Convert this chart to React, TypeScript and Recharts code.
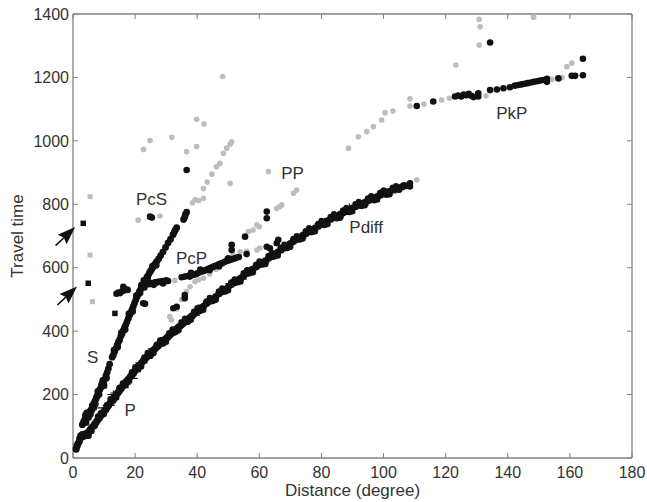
import React from 'react';
import { ScatterChart, Scatter, XAxis, YAxis } from 'recharts';

type Pt = [number, number];

const xTicks = [0, 20, 40, 60, 80, 100, 120, 140, 160, 180];
const yTicks = [0, 200, 400, 600, 800, 1000, 1200, 1400];

// P / Pdiff band (black dots)
const pBand: Pt[] = [
  [1, 28], [1.3, 38], [1.6, 45], [2, 52], [2.2, 62], [2.5, 70], [2.8, 66], [3, 74], [3.3, 68], [3.6, 72], [4, 76], [4.4, 72],
  [4.8, 80], [5.2, 84], [5.6, 90], [6, 96], [6.5, 100], [7, 108], [7.5, 113], [8, 121], [8.5, 126], [9, 134], [9.5, 141],
  [10, 147], [10.5, 152], [11, 160], [11.5, 166], [12, 174], [12.5, 181], [13, 188], [13.5, 193], [14, 201], [14.5, 206],
  [15, 214], [15.5, 219], [16, 226], [16.5, 232], [17, 239], [17.5, 245], [18, 250], [18.5, 257], [19, 262], [19.5, 268],
  [20, 276], [20.5, 281], [21, 288], [21.5, 292], [22, 299], [22.5, 305], [23, 310], [23.5, 316], [24, 321], [24.5, 326],
  [25, 331], [25.5, 336], [26, 341], [26.5, 345], [27, 351], [27.5, 355], [28, 360], [28.5, 363], [29, 368], [29.5, 373],
  [30, 377], [30.5, 381], [31, 386], [31.5, 391], [32, 395], [32.5, 399], [33, 404], [33.5, 408], [34, 413], [34.5, 416],
  [35, 421], [35.5, 425], [36, 429], [36.5, 433], [37, 437], [37.5, 441], [38, 446], [38.5, 449], [39, 454], [39.5, 458],
  [40, 462], [41, 471], [42, 478], [43, 487], [44, 494], [45, 502], [46, 509], [47, 518], [48, 524], [49, 532], [50, 539],
  [51, 547], [52, 553], [53, 561], [54, 567], [55, 575], [56, 582], [57, 590], [58, 596], [59, 603], [60, 609], [61, 617],
  [62, 622], [63, 630], [64, 636], [65, 643], [66, 649], [67, 656], [68, 662], [69, 669], [70, 676], [71, 683], [72, 689],
  [73, 696], [74, 702], [75, 708], [76, 714], [77, 720], [78, 725], [79, 731], [80, 737], [81, 742], [82, 748], [83, 753],
  [84, 758], [85, 763], [86, 768], [87, 773], [88, 778], [89, 783], [90, 788], [91, 793], [92, 797], [93, 802], [94, 806],
  [95, 811], [96, 815], [97, 820], [98, 824], [99, 829], [100, 833], [101, 837], [102, 841], [103, 845], [104, 848],
  [105, 852], [106, 855],
];

// scattered picks along the edges of the P band
const pEdge: Pt[] = [
  [5, 70], [7, 102], [9, 141], [11, 167], [13, 181], [15, 221], [17, 232], [19, 270], [21, 281], [23, 317], [25, 324],
  [27, 357], [29, 361], [31, 393], [33, 397], [35, 428], [37, 430], [39, 461], [41, 464], [43, 493], [45, 495], [47, 525],
  [49, 525], [51, 553], [53, 554], [55, 582], [57, 583], [59, 609], [61, 610], [63, 637], [65, 636], [67, 663], [69, 662],
  [71, 690], [73, 689], [75, 715], [77, 713], [79, 738], [81, 735], [83, 760], [85, 756], [87, 780], [89, 776], [91, 800],
  [93, 795], [95, 818], [97, 813], [99, 836], [101, 830], [103, 852], [105, 846], [107, 858],
];

// outer scatter of the P band
const pOuter: Pt[] = [
  [6, 84], [8, 132], [10, 138], [12, 186], [14, 190], [16, 236], [18, 240], [20, 287], [22, 288], [24, 332], [26, 330],
  [28, 371], [30, 366], [32, 406], [34, 402], [36, 440], [38, 435], [40, 473], [42, 467], [44, 505], [46, 498], [48, 535],
  [50, 528], [52, 564], [54, 556], [56, 593], [58, 585], [60, 620], [62, 611], [64, 647], [66, 638], [68, 673], [70, 665],
  [72, 700], [74, 691], [76, 725], [78, 714], [80, 748], [82, 737], [84, 769], [86, 757], [88, 789], [90, 777], [92, 808],
  [94, 796], [96, 826], [98, 814], [100, 844], [102, 831], [104, 858],
];

// "+" picks on the P band
const pCross: Pt[] = [
  [10, 158], [11.5, 166], [13, 200], [14, 205], [16, 222], [18.9, 251], [20, 272], [22, 300], [23.7, 314], [26, 344],
  [28, 356], [30, 380], [33, 400], [36, 432], [39, 450], [42, 482], [45, 498], [48, 528], [51, 550], [54, 564], [57, 592],
  [60, 612], [63, 626], [66, 652], [69, 670], [72, 692], [75, 704], [78, 728], [81, 744], [84, 760], [87, 768], [89, 790],
  [92, 800], [95, 808], [98, 828], [101, 838], [104, 846],
];

// S band (black dots)
const sBand: Pt[] = [
  [3, 105], [3.4, 115], [3.8, 122], [4.2, 112], [4.6, 130], [5, 140], [5.4, 146], [5.8, 152], [6.2, 165], [6.6, 170],
  [7, 178], [7.4, 186], [7.8, 196], [8.2, 205], [8.6, 215], [9, 222], [9.4, 230], [9.8, 236], [10.2, 248], [10.6, 260],
  [11, 270], [11.4, 282], [11.8, 296], [12.6, 318], [13, 325], [13.4, 335], [13.8, 345], [14.2, 356], [14.6, 365],
  [15, 372], [15.4, 384], [15.8, 392], [16.2, 402], [16.6, 412], [17, 420], [17.4, 430], [17.8, 440], [18.2, 450],
  [18.6, 458], [19, 468], [19.4, 478], [19.8, 488], [20.2, 498], [20.6, 508], [21, 516], [21.4, 525], [21.8, 532],
  [22.2, 540], [22.6, 548], [23, 555], [23.4, 562], [23.8, 570], [24.2, 576], [24.6, 583], [25, 590], [25.4, 596],
  [25.8, 602], [26.2, 608], [26.6, 614], [27, 620], [27.6, 628], [28.2, 638], [29, 650], [29.8, 664], [30.6, 678],
  [31.4, 690], [32.2, 704], [32.6, 712], [33, 720], [33.4, 726], [35.6, 752], [36, 760], [36.2, 768], [36.6, 775],
  [4, 135], [5, 128], [6, 150], [6.8, 160], [7.6, 192], [8.4, 200], [9.2, 232], [10, 228],
  [4.4, 142], [5.6, 138], [7.2, 170], [8, 210], [9.6, 245], [10.8, 252], [13.2, 340], [14.4, 350], [15.6, 395],
  [16.8, 405], [18, 455], [19.2, 462], [20.4, 512], [21.6, 520], [22.8, 560], [24, 566], [25.6, 605], [26.8, 608],
];

// PcP band (black dots)
const pcpBand: Pt[] = [
  [14, 518], [14.6, 522], [15.2, 520], [15.8, 526], [16.4, 528], [17, 532], [17.6, 530], [16.2, 540], [22, 545],
  [22.8, 544], [23.4, 546], [24, 550], [24.6, 548], [25.2, 552], [25.8, 551], [26.4, 554], [27, 553], [27.6, 556],
  [28.2, 555], [28.8, 558], [29.4, 556], [30, 560], [30.6, 558], [35, 570], [36, 572], [37, 574], [37.6, 572],
  [38.2, 576], [39, 578], [39.6, 580], [40.2, 583], [40.8, 586], [41.4, 588], [42, 590], [42.6, 592], [43.2, 595],
  [43.8, 597], [44.4, 600], [45, 602], [45.6, 605], [46.2, 607], [46.8, 610], [47.4, 612], [48, 615], [48.6, 617],
  [49.2, 620], [49.8, 622], [50.4, 624], [51, 626], [51.6, 628], [52.2, 630], [52.8, 632], [53.4, 634], [55.9, 643],
  [23, 538], [26, 546], [29, 550], [38, 584], [41, 594], [44, 592], [47, 604], [50, 630],
];

// PKP branch (black dots)
const pkpBand: Pt[] = [
  [110.7, 1110], [116, 1124], [123, 1140], [124, 1143], [125, 1140], [125.8, 1146], [126.6, 1144], [127.4, 1148],
  [128.2, 1142], [129, 1138], [130.5, 1140], [130.5, 1150], [134.3, 1160], [136.5, 1162], [138.6, 1166], [140.7, 1169],
  [142.3, 1174], [143.4, 1176], [144.4, 1178], [145.4, 1180], [146.4, 1182], [147.4, 1184], [148.4, 1186],
  [149.4, 1188], [150.4, 1190], [151.4, 1192], [152.6, 1196], [152.6, 1186], [156.3, 1197], [160.6, 1205],
  [161.7, 1205], [164.2, 1207], [164.2, 1259], [134.3, 1310],
];

// other black picks
const blackOther: Pt[] = [
  [36.6, 908], [24.8, 761], [25.4, 758], [62.4, 777], [62.4, 756], [55.4, 698], [51.1, 672], [51.1, 656], [62.4, 666],
  [63.4, 661], [65.6, 677], [66.1, 688], [36, 514], [36, 504], [33.4, 477], [22.6, 488], [32.3, 472], [23.2, 486],
  [108.5, 866], [108.5, 856], [106.5, 860],
];

const blackSquares: Pt[] = [[3.3, 740], [4.9, 551], [13.5, 456]];

// grey (predicted / secondary) picks
const greyPts: Pt[] = [
  [22.7, 973], [24.8, 1001], [31.8, 1011], [36.6, 966], [39.8, 982], [39.8, 1068], [42.2, 1053], [48.2, 1203],
  [21, 750], [28, 763], [38.5, 805], [39.3, 814], [40.5, 812], [42, 850], [43.2, 870], [44.7, 895], [46.2, 918],
  [47.3, 929], [48.4, 961], [49.5, 977], [50.6, 990], [51.1, 997], [50.6, 866], [42, 819], [31.5, 688], [28.5, 648],
  [24.5, 590], [31.2, 446], [31.7, 435], [33.5, 470], [35, 500], [36.5, 525], [37.7, 540], [39.3, 556], [40.5, 562],
  [42, 567], [44, 580], [46, 595], [48, 610], [49.5, 630], [51.5, 640], [53.8, 650], [56, 652], [59.2, 656],
  [60.2, 662], [32.8, 560], [56.5, 714], [58, 719], [59.2, 735], [60, 729], [65.6, 787], [66.5, 792], [67.2, 798],
  [71, 835], [72, 845], [62.9, 903], [88.7, 977], [91.9, 1013], [94.6, 1029], [96.7, 1045], [99.4, 1066],
  [100.5, 1089], [103, 1094], [110.7, 877], [108.5, 1110], [108.5, 1133], [113, 1116], [118.7, 1129], [121.2, 1134],
  [133, 1142], [154.2, 1194], [157.5, 1200], [159, 1234], [160.6, 1245], [123.3, 1239], [130.8, 1302], [130.8, 1383],
  [131.1, 1360], [148.3, 1390],
];

const greySquares: Pt[] = [[5.5, 824], [5.5, 640], [6.3, 493]];

const arrowTips: Pt[] = [[0.7, 728], [1.3, 541]];

const phaseNames = ['S', 'P', 'PcS', 'PcP', 'PP', 'Pdiff', 'PkP'];
const phaseAnchors: Pt[] = [[6.3, 320], [18.4, 151], [25.3, 816], [38.2, 630], [70.7, 898], [94.4, 727], [141.3, 1089]];

const toObj = (a: Pt[]) => a.map(([x, y]) => ({ x, y }));
const labelData = phaseNames.map((name, i) => ({ x: phaseAnchors[i][0], y: phaseAnchors[i][1], name }));

const FONT = '"Liberation Sans", Arial, Helvetica, sans-serif';
const AXIS = '#808080';
const TXT = '#333333';
const BLACK = '#111111';
const GREY = '#bdbdbd';

const BottomTick = (p: any) => (
  <g>
    <line x1={p.x} y1={p.y} x2={p.x} y2={p.y - 5} stroke={AXIS} strokeWidth={1} />
    <text x={p.x} y={p.y + 20} textAnchor="middle" fontSize={16} fontFamily={FONT} fill={TXT}>
      {p.payload.value}
    </text>
  </g>
);
const LeftTick = (p: any) => (
  <g>
    <line x1={p.x} y1={p.y} x2={p.x + 5} y2={p.y} stroke={AXIS} strokeWidth={1} />
    <text x={p.x - 4} y={p.y + 5.7} textAnchor="end" fontSize={16} fontFamily={FONT} fill={TXT}>
      {p.payload.value}
    </text>
  </g>
);
const TopTick = (p: any) => <line x1={p.x} y1={p.y} x2={p.x} y2={p.y + 5} stroke={AXIS} strokeWidth={1} />;
const RightTick = (p: any) => <line x1={p.x} y1={p.y} x2={p.x - 5} y2={p.y} stroke={AXIS} strokeWidth={1} />;

const dot = (r: number, fill: string) => (p: any) => <circle cx={p.cx} cy={p.cy} r={r} fill={fill} />;
const square = (s: number, fill: string) => (p: any) => (
  <rect x={p.cx - s / 2} y={p.cy - s / 2} width={s} height={s} fill={fill} />
);
const cross = (p: any) => (
  <path d={`M${p.cx - 6},${p.cy}H${p.cx + 6}M${p.cx},${p.cy - 4}V${p.cy + 4}`} stroke={BLACK} strokeWidth={1.1} fill="none" />
);
const arrow = (p: any) => {
  const ux = 0.726, uy = -0.688, nx = 0.688, ny = 0.726;
  const tx = p.cx, ty = p.cy;
  const L = 18, W = 6.5, N = 15.5, T = 27;
  const bx = tx - L * ux, by = ty - L * uy;
  const pts = [
    [tx, ty],
    [bx + W * nx, by + W * ny],
    [tx - N * ux, ty - N * uy],
    [bx - W * nx, by - W * ny],
  ].map((q) => q.join(',')).join(' ');
  return (
    <g>
      <line x1={tx - N * ux} y1={ty - N * uy} x2={tx - T * ux} y2={ty - T * uy} stroke={BLACK} strokeWidth={1.6} />
      <polygon points={pts} fill={BLACK} />
    </g>
  );
};
const phaseLabel = (p: any) => (
  <text x={p.cx} y={p.cy + 6} textAnchor="middle" fontSize={17} fontFamily={FONT} fill={TXT}>
    {p.payload.name}
  </text>
);

export default function App() {
  return (
    <div style={{ position: 'absolute', left: 0, top: 0, background: '#fff' }}>
      <ScatterChart width={647} height={502} margin={{ top: 13, right: 14, bottom: 0, left: 0 }}>
        <XAxis
          xAxisId="b"
          type="number"
          dataKey="x"
          domain={[0, 180]}
          ticks={xTicks}
          orientation="bottom"
          height={44}
          axisLine={{ stroke: AXIS, strokeWidth: 1.3 }}
          tickLine={false}
          tickSize={0}
          tickMargin={0}
          tick={BottomTick}
          label={{
            content: () => (
              <text x={352.5} y={496} textAnchor="middle" fontSize={17} fontFamily={FONT} fill={TXT}>
                Distance (degree)
              </text>
            ),
          }}
        />
        <XAxis
          xAxisId="t"
          type="number"
          dataKey="x"
          domain={[0, 180]}
          ticks={xTicks}
          orientation="top"
          height={1}
          axisLine={{ stroke: AXIS, strokeWidth: 1.3 }}
          tickLine={false}
          tickSize={0}
          tickMargin={0}
          tick={TopTick}
        />
        <YAxis
          yAxisId="l"
          type="number"
          dataKey="y"
          domain={[0, 1400]}
          ticks={yTicks}
          orientation="left"
          width={73}
          axisLine={{ stroke: AXIS, strokeWidth: 1.3 }}
          tickLine={false}
          tickSize={0}
          tickMargin={0}
          tick={LeftTick}
          label={{
            content: () => (
              <text x={23} y={236} transform="rotate(-90, 23, 236)" textAnchor="middle" fontSize={17} fontFamily={FONT} fill={TXT}>
                Travel time
              </text>
            ),
          }}
        />
        <YAxis
          yAxisId="r"
          type="number"
          dataKey="y"
          domain={[0, 1400]}
          ticks={yTicks}
          orientation="right"
          width={1}
          axisLine={{ stroke: AXIS, strokeWidth: 1.3 }}
          tickLine={false}
          tickSize={0}
          tickMargin={0}
          tick={RightTick}
        />
        <Scatter xAxisId="t" yAxisId="r" data={toObj(greyPts)} shape={dot(2.8, GREY)} isAnimationActive={false} />
        <Scatter xAxisId="t" yAxisId="r" data={toObj(greySquares)} shape={square(5, GREY)} isAnimationActive={false} />
        <Scatter xAxisId="b" yAxisId="l" data={toObj(pCross)} shape={cross} isAnimationActive={false} />
        <Scatter xAxisId="b" yAxisId="l" data={toObj(pBand)} shape={dot(3.6, BLACK)} isAnimationActive={false} />
        <Scatter xAxisId="b" yAxisId="l" data={toObj(pEdge)} shape={dot(3.3, BLACK)} isAnimationActive={false} />
        <Scatter xAxisId="b" yAxisId="l" data={toObj(pOuter)} shape={dot(3, BLACK)} isAnimationActive={false} />
        <Scatter xAxisId="b" yAxisId="l" data={toObj(sBand)} shape={dot(3.4, BLACK)} isAnimationActive={false} />
        <Scatter xAxisId="b" yAxisId="l" data={toObj(pcpBand)} shape={dot(3.3, BLACK)} isAnimationActive={false} />
        <Scatter xAxisId="b" yAxisId="l" data={toObj(pkpBand)} shape={dot(3.3, BLACK)} isAnimationActive={false} />
        <Scatter xAxisId="b" yAxisId="l" data={toObj(blackOther)} shape={dot(3.3, BLACK)} isAnimationActive={false} />
        <Scatter xAxisId="b" yAxisId="l" data={toObj(blackSquares)} shape={square(5.5, BLACK)} isAnimationActive={false} />
        <Scatter xAxisId="b" yAxisId="l" data={toObj(arrowTips)} shape={arrow} isAnimationActive={false} />
        <Scatter xAxisId="b" yAxisId="l" data={labelData} shape={phaseLabel} isAnimationActive={false} />
      </ScatterChart>
    </div>
  );
}
